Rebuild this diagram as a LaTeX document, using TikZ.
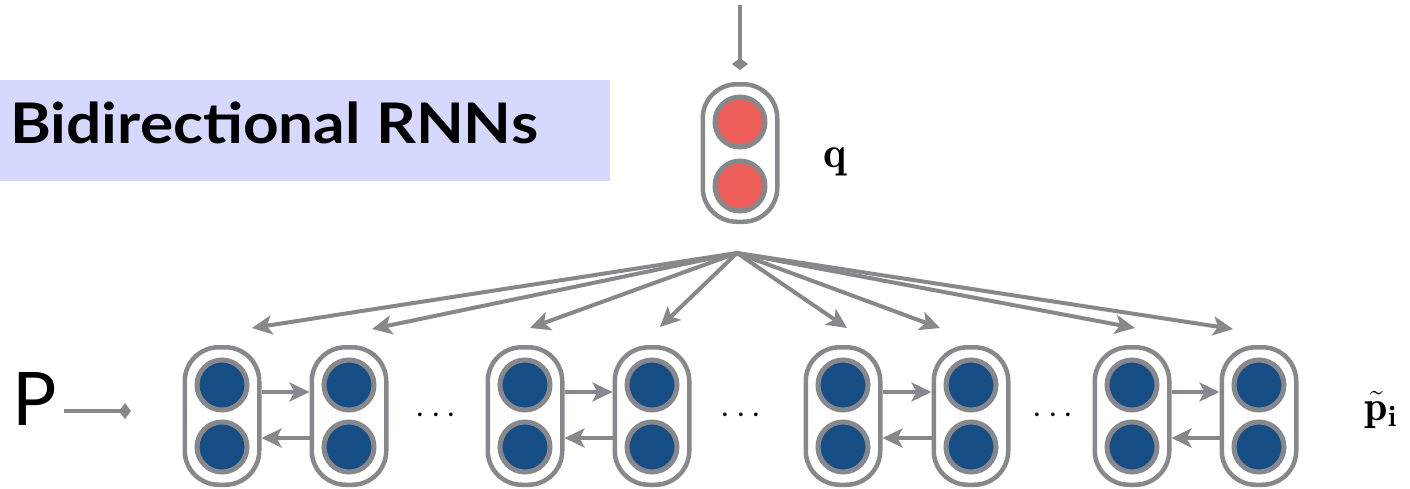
\documentclass[tikz,border=0pt]{standalone}
\usepackage{fontspec}
\newfontfamily\latofont{Lato}
\newfontfamily\titlefont[FakeStretch=1.11]{Lato Bold}
\usetikzlibrary{arrows.meta}
\definecolor{edgegray}{HTML}{86888B}
\definecolor{cellblue}{HTML}{154D84}
\definecolor{cellred}{HTML}{EC5E57}
\definecolor{titlebg}{HTML}{D7D8FE}
\begin{document}
\begin{tikzpicture}[x=0.5pt,y=-0.5pt,
 cellbox/.style={draw=edgegray, line width=2.25pt, rounded corners=17pt, minimum width=37.25pt, minimum height=68.75pt, fill=white, inner sep=0pt},
 unitb/.style={circle, draw=edgegray, line width=2.5pt, fill=cellblue, minimum size=25pt, inner sep=0pt},
 unitr/.style={unitb, fill=cellred},
 arr/.style={draw=edgegray, line width=2pt, -{Stealth[length=10pt,width=9.5pt,inset=2.5pt]}},
 darr/.style={draw=edgegray, line width=2pt, -{Diamond[length=6pt,width=8pt]}},
 dotsnode/.style={inner sep=0pt, font=\fontsize{18}{20}\selectfont},
]
\useasboundingbox (0,0) rectangle (1410,488);
% title
\node[fill=titlebg, minimum width=305pt, minimum height=50.5pt, inner sep=0pt, anchor=north west] (titlebox) at (0,80) {};
\node[anchor=base west, inner sep=0pt, font=\titlefont\fontsize{28}{30}\selectfont] (title) at (10,143) {Bidirectional RNNs};
% question cell
\node[cellbox] (qcell) at (740,153) {};
\node[unitr] (q1) at (740,122) {};
\node[unitr] (q2) at (740,186) {};
\coordinate (qin) at (740,5);
\draw[darr] (qin) -- ([yshift=6pt]qcell.north);
\node[anchor=base, font=\fontsize{22}{26}\selectfont] (qlab) at (835,167) {$\mathbf{q}$};
% passage cells
\foreach \i/\x in {1/222,2/349,3/525,4/652,5/843,6/971,7/1132,8/1259}{
  \node[cellbox] (c\i) at (\x,416) {};
  \node[unitb] (c\i u) at (\x,385) {};
  \node[unitb] (c\i d) at (\x,447) {};
}
\foreach \a/\b in {1/2,3/4,5/6,7/8}{
  \draw[arr] ([yshift=12pt]c\a.east) -- ([yshift=12pt]c\b.west);
  \draw[arr] ([yshift=-11pt]c\b.west) -- ([yshift=-11pt]c\a.east);
}
\node[dotsnode] (d1) at (436,416) {$\cdots$};
\node[dotsnode] (d2) at (741,416) {$\cdots$};
\node[dotsnode] (d3) at (1053,416) {$\cdots$};
% fan of arrows
\coordinate (fan) at (737,253);
\foreach \i/\x/\y in {1/252/328,2/372/329,3/530/328,4/660/327,5/847/328,6/940/328,7/1135/328,8/1233/329}{
  \coordinate (t\i) at (\x,\y);
  \draw[arr] (fan) -- (t\i);
}
% passage input
\node[anchor=base west, inner sep=0pt, font=\latofont\fontsize{37}{40}\selectfont] (Plab) at (12,425) {P};
\coordinate (pin) at (64,411);
\coordinate (pout) at (131,411);
\draw[darr] (pin) -- (pout);
\node[anchor=base, font=\fontsize{21}{24}\selectfont] (plab) at (1381,420) {$\tilde{\mathbf{p}}_{\mathbf{i}}$};
\end{tikzpicture}
\end{document}
